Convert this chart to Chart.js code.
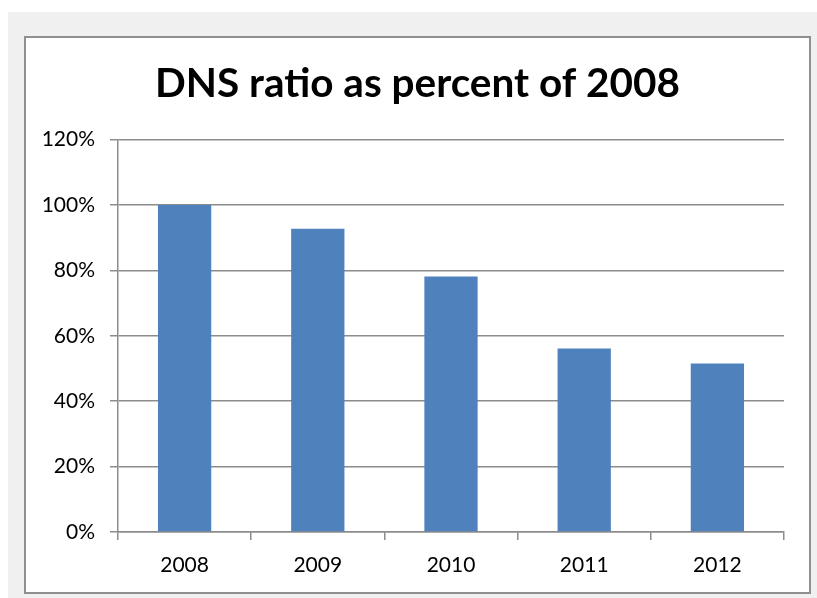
<!DOCTYPE html>
<html>
<head>
<meta charset="utf-8">
<script src="https://cdn.jsdelivr.net/npm/chart.js@4"></script>
<style>
  html, body { margin: 0; padding: 0; background: #ffffff; }
  #bg { position: absolute; left: 8px; top: 12px; width: 809px; height: 586px; background: #f0f0f0; }
  #frame { position: absolute; left: 24px; top: 36px; width: 783px; height: 554px; background: #ffffff; border: 2px solid #8f8f8f; }
</style>
</head>
<body>
<div id="bg"></div>
<div id="frame"><canvas id="dns" width="783" height="554"></canvas></div>
<script>
const years = ["2008", "2009", "2010", "2011", "2012"];
const ratio = [100, 92.7, 78.1, 56.1, 51.5];
const yMax = 120;
const yStep = 20;

// center the title over the whole frame, not just the padded box
const titleCenter = {
  id: "titleCenter",
  afterLayout(chart) {
    if (chart.titleBlock) {
      chart.titleBlock.left = 0;
      chart.titleBlock.right = chart.width;
    }
  },
};

const ctx = document.getElementById("dns");
var myChart = new Chart(ctx, {
  type: "bar",
  data: {
    labels: years,
    datasets: [{
      label: "DNS ratio",
      data: ratio,
      backgroundColor: "#4f81bd",
      borderWidth: 0,
      barPercentage: 0.4,
      categoryPercentage: 1.0,
    }]
  },
  options: {
    responsive: false,
    animation: false,
    layout: { padding: { left: 0, right: 25, top: 0, bottom: 0 } },
    plugins: {
      legend: { display: false },
      tooltip: { enabled: false },
      title: {
        display: true,
        text: "DNS ratio as percent of 2008",
        color: "#000000",
        font: { family: "Lato", size: 40.5, weight: "bold", lineHeight: 1.2 },
        padding: { top: 22, bottom: 31 },
      },
    },
    scales: {
      y: {
        min: 0,
        max: yMax,
        ticks: {
          stepSize: yStep,
          padding: 15,
          color: "#000000",
          font: { family: "Lato", size: 21 },
          callback: (v) => v + "%",
        },
        grid: { color: "#8c8c8c", lineWidth: 1.5, tickLength: 8 },
        border: { color: "#8c8c8c", width: 1.5 },
        afterFit: (s) => { s.width = 92; },
      },
      x: {
        ticks: {
          padding: 13,
          color: "#000000",
          font: { family: "Lato", size: 21 },
        },
        grid: { drawOnChartArea: false, color: "#8c8c8c", lineWidth: 1.5, tickLength: 8, offset: true },
        border: { color: "#8c8c8c", width: 1.5 },
        afterFit: (s) => { s.height = 60; },
      },
    },
  },
  plugins: [titleCenter],
});
</script>
</body>
</html>
